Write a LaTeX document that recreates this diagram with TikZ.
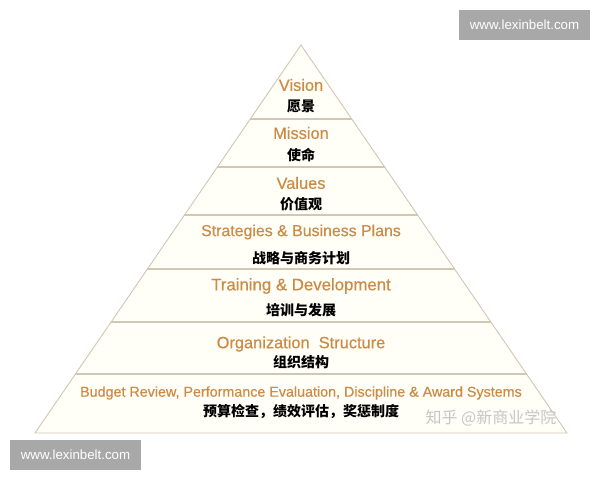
\documentclass[tikz,border=0pt]{standalone}
\usepackage{fontspec}
\setmainfont{Liberation Sans}
\newfontfamily\enfont[FakeBold=0.4]{Liberation Sans}
\newfontfamily\cjk{Noto Sans CJK SC}
\usetikzlibrary{positioning,calc}
\definecolor{labelorange}{RGB}{203,138,70}
\definecolor{edgetan}{RGB}{208,199,182}
\definecolor{paper}{RGB}{255,254,247}
\definecolor{markgray}{RGB}{168,168,168}
\tikzset{
  entext/.style={inner sep=0pt, text=labelorange, font=\enfont\fontsize{16.4}{18}\selectfont},
  zhtext/.style={inner sep=0pt, text=black, font=\cjk\bfseries\fontsize{14}{16}\selectfont},
  sitebox/.style={fill=markgray, text=white, minimum width=131pt, minimum height=30pt, inner sep=0pt, font=\fontsize{13.3}{15}\selectfont},
  divider/.style={draw=edgetan, line width=1.1pt}
}
\begin{document}
\begin{tikzpicture}[x=1pt, y=-1pt]
        \useasboundingbox (0,0) rectangle (600,480);

        % Pyramide (Umriss)
        \coordinate (top) at (301,45);
        \coordinate (bl) at (35,433);
        \coordinate (br) at (567,433);
        \filldraw [fill=paper, draw=edgetan, line width=0.9pt] (top) -- (bl) -- (br) -- cycle;

        % Trennlinien zwischen den Ebenen
        \foreach \t in {0.1907,0.3144,0.4381,0.5773,0.7139,0.8479}
            \draw [divider] ($(top)!\t!(bl)$) -- ($(top)!\t!(br)$);

        % Ebenen (englisch + chinesisch)
        \node (vision) [entext] at (301,85) {Vision};
        \node (visionzh) [zhtext] at (301,106) {愿景};

        \node (mission) [entext] at (301,133) {Mission};
        \node (missionzh) [zhtext] at (301,155) {使命};

        \node (values) [entext] at (301,183) {Values};
        \node (valueszh) [zhtext] at (301,204) {价值观};

        \node (strategy) [entext, font=\enfont\fontsize{15.9}{18}\selectfont] at (301,232) {Strategies \& Business Plans};
        \node (strategyzh) [zhtext] at (301,258) {战略与商务计划};

        \node (training) [entext, font=\enfont\fontsize{16.8}{18}\selectfont] at (301,286) {Training \& Development};
        \node (trainingzh) [zhtext] at (301,310) {培训与发展};

        \node (org) [entext] at (301,344) {Organization\ \ Structure};
        \node (orgzh) [zhtext] at (301,362) {组织结构};

        \node (budget) [entext, font=\enfont\fontsize{14.3}{16}\selectfont] at (301,393) {Budget Review, Performance Evaluation, Discipline \& Award Systems};
        \node (budgetzh) [zhtext] at (301,411) {预算检查，绩效评估，奖惩制度};

        % Wasserzeichen
        \node (zhihu) [text=gray!45, inner sep=0pt, font=\cjk\fontsize{16}{18}\selectfont] at (491,418) {知乎 @新商业学院};
        \node (siteA) [sitebox] at (524.5,25) {www.lexinbelt.com};
        \node (siteB) [sitebox] at (75.5,455) {www.lexinbelt.com};
    \end{tikzpicture}
\end{document}
